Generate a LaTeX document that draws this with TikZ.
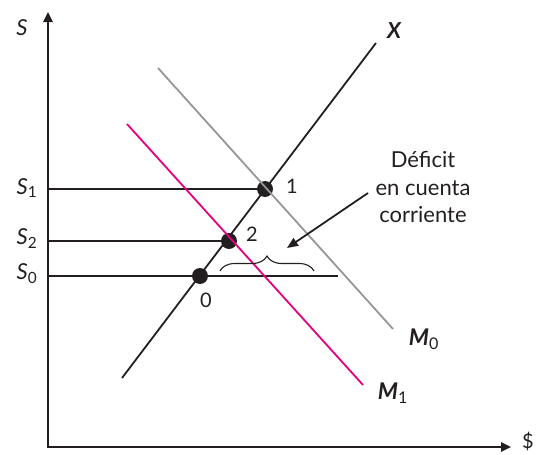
\documentclass[tikz,border=0pt]{standalone}
\usepackage{fontspec}
\setmainfont{Lato}
\usetikzlibrary{arrows.meta,decorations.pathreplacing}
\definecolor{magline}{RGB}{230,0,126}
\definecolor{grayline}{RGB}{150,150,150}
\definecolor{txt}{RGB}{35,31,32}
\begin{document}
\begin{tikzpicture}[x=1pt,y=-1pt,
  axis/.style={line width=2.4pt,draw=txt,-{Triangle[length=10pt,width=9pt]}},
  ln/.style={line width=1.8pt,draw=txt},
  dot/.style={circle,fill=txt,inner sep=0pt,minimum size=16pt},
  lbl/.style={text=txt,font=\fontsize{20}{22}\selectfont,inner sep=0pt},
  slbl/.style={text=txt,font=\fontsize{22}{24}\selectfont\itshape,inner sep=0pt},
  mlbl/.style={text=txt,font=\fontsize{23}{24}\selectfont\bfseries\itshape,inner sep=0pt}]
\useasboundingbox (0,0) rectangle (542,455);
% axes
\coordinate (ytop) at (48,12);
\coordinate (xend) at (511,447);
\draw[axis] (48,448.2) -- (ytop);
\draw[axis] (46.8,447) -- (xend);
\node[slbl] (S) at (22,28) {S};
\node[lbl,font=\fontsize{20}{22}\selectfont] (dollar) at (528,441) {\$};
% points
\node[dot] (p1) at (265,189) {};
\node[dot] (p2) at (229,241) {};
\node[dot] (p0) at (200,276) {};
% horizontal lines
\coordinate (a1) at (49,189);
\coordinate (a2) at (49,241);
\coordinate (a0) at (49,276);
\coordinate (e0) at (338,276);
\draw[ln] (a1) -- (p1.center);
\draw[ln] (a2) -- (p2.center);
\draw[ln] (a0) -- (e0);
\node[slbl] (S1) at (27,188) {S\textsubscript{\upshape 1}};
\node[slbl] (S2) at (27,239) {S\textsubscript{\upshape 2}};
\node[slbl] (S0) at (27,274) {S\textsubscript{\upshape 0}};
% X line
\coordinate (xa) at (122,378);
\coordinate (xb) at (376,43);
\draw[ln] (xa) -- (xb);
\node[mlbl,font=\fontsize{22}{24}\selectfont\bfseries\itshape] (X) at (394,31) {X};
% M0
\coordinate (m0a) at (158,68);
\coordinate (m0b) at (393,329);
\draw[line width=1.8pt,draw=grayline] (m0a) -- (m0b);
\node[mlbl] (M0) at (424,339) {M\textsubscript{\mdseries\upshape 0}};
% M1
\coordinate (m1a) at (127,124);
\coordinate (m1b) at (363,385);
\draw[line width=1.8pt,draw=magline] (m1a) -- (m1b);
\node[mlbl] (M1) at (393,393) {M\textsubscript{\mdseries\upshape 1}};
% point labels
\node[lbl] (l1) at (292,186) {1};
\node[lbl] (l2) at (252,234) {2};
\node[lbl] (l0) at (206,300) {0};
% brace
\coordinate (b1) at (220,271);
\coordinate (b2) at (314,271);
\draw[line width=1.1pt,draw=txt,decorate,decoration={brace,amplitude=15pt}] (b1) -- (b2);
% deficit text and arrow
\node[lbl,align=center,font=\fontsize{22}{27.5}\selectfont] (def) at (423,187) {Déficit\\en cuenta\\corriente};
\coordinate (arrs) at (368,193);
\coordinate (arre) at (287,248);
\draw[line width=1.8pt,draw=txt,-{Triangle[length=11pt,width=9pt]}] (arrs) -- (arre);
\end{tikzpicture}
\end{document}
